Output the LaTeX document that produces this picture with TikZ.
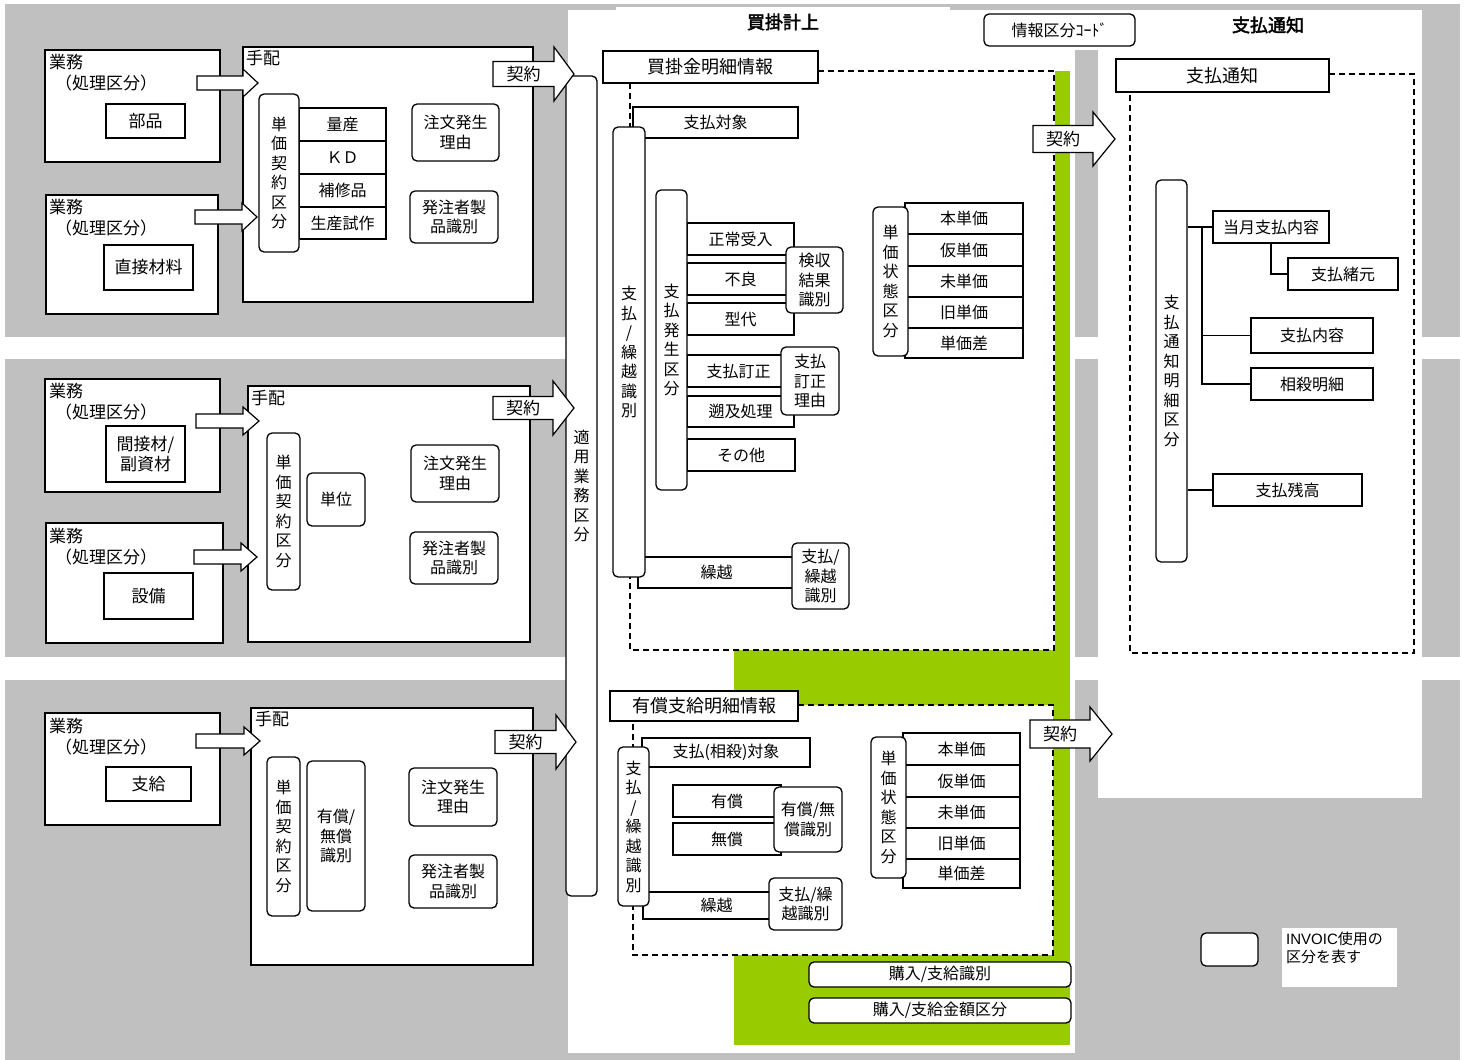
\documentclass[tikz,border=0pt]{standalone}
\usepackage{fontspec}
\setmainfont{Noto Sans CJK JP}[AutoFakeBold=2.5]
\newfontfamily\lat{Liberation Sans}
\definecolor{bandgray}{RGB}{192,192,192}
\definecolor{grn}{RGB}{153,204,0}
\tikzset{
  every node/.style={font=\fontsize{16}{19.5}\selectfont},
  rect/.style={draw, fill=white, line width=1.3pt, inner sep=0pt, align=center},
  rbox/.style={rect, rounded corners=5pt},
  big/.style={font=\fontsize{18}{21}\selectfont},
  mid/.style={font=\fontsize{17}{20}\selectfont},
  ttl/.style={font=\fontsize{18}{21}\selectfont\bfseries},
  dsh/.style={line width=1.5pt, dash pattern=on 6pt off 4pt},
  blk/.style={draw, fill=white, line width=1.2pt, line join=miter},
  ln/.style={line width=1.3pt},
}
% \bx[style]{name}{x1}{y1}{x2}{y2}{text}
\newcommand\bx[7][]{\node[rect,#1,minimum width={#5pt-#3pt},minimum height={#6pt-#4pt}] (#2) at ({(#3+#5)/2},{(#4+#6)/2}) {#7};}
% \barrow{name}{x1}{xhead}{xtip}{yc}{shaft half}{head half}
\newcommand\barrow[7]{%
  \draw[blk] (#2,{#5-#6}) -- (#3,{#5-#6}) -- (#3,{#5-#7}) -- (#4,#5) -- (#3,{#5+#7}) -- (#3,{#5+#6}) -- (#2,{#5+#6}) -- cycle;
  \coordinate (#1) at ({(#2+#3)/2},#5);}
\begin{document}
\begin{tikzpicture}[x=1pt,y=-1pt]
\useasboundingbox (0,0) rectangle (1468,1060);
\fill[white] (0,0) rectangle (1468,1060);
% background bands
\fill[bandgray] (5,4) rectangle (1460,337);
\fill[bandgray] (5,359) rectangle (1460,657);
\fill[bandgray] (5,680) rectangle (1460,1060);
\fill[white] (568,10) rectangle (1075,1053);
\fill[white] (616,7) rectangle (950,10);
\fill[white] (1075,10) rectangle (1098,50);
\fill[white] (1098,10) rectangle (1422,798);
\fill[grn] (1055,71) rectangle (1070,1045);
\fill[grn] (734,650) rectangle (1070,1045);
\fill[white] (633,705) rectangle (1053,955);

% ===== Section 1 =====
\bx{gm1}{45}{50}{220}{162}{}
\node[mid,anchor=west,inner sep=0pt] (gm1a) at (49,62) {業務};
\node[mid,anchor=west,inner sep=0pt] (gm1b) at (55,83) {（処理区分）};
\bx[mid]{bu}{106}{104}{185}{138}{部品}
\bx{gm2}{46}{195}{218}{314}{}
\node[mid,anchor=west,inner sep=0pt] (gm2a) at (49,207) {業務};
\node[mid,anchor=west,inner sep=0pt] (gm2b) at (55,228) {（処理区分）};
\bx[mid]{cz}{104}{245}{193}{290}{直接材料}
\bx{th1}{243}{47}{533}{302}{}
\node[mid,anchor=west,inner sep=0pt] (th1a) at (246,58) {手配};
\barrow{a11}{197}{243}{258}{83}{7}{14}
\barrow{a12}{195}{242}{257}{217}{7}{14}
\bx{r11}{299}{108}{386}{141}{量産}
\bx{r12}{299}{141}{386}{174}{ＫＤ}
\bx{r13}{299}{174}{386}{207}{補修品}
\bx{r14}{299}{207}{386}{239}{生産試作}
\bx[rbox]{tk1}{259}{94}{299}{252}{単\\価\\契\\約\\区\\分}
\bx[rbox]{cr1}{412}{104}{499}{161}{注文発生\\理由}
\bx[rbox]{hs1}{410}{191}{498}{243}{発注者製\\品識別}

% ===== Section 2 =====
\bx{gm3}{45}{379}{220}{492}{}
\node[mid,anchor=west,inner sep=0pt] (gm3a) at (49,391) {業務};
\node[mid,anchor=west,inner sep=0pt] (gm3b) at (55,412) {（処理区分）};
\bx[mid]{kz}{106}{426}{185}{482}{間接材/\\副資材}
\bx{gm4}{46}{523}{223}{643}{}
\node[mid,anchor=west,inner sep=0pt] (gm4a) at (49,536) {業務};
\node[mid,anchor=west,inner sep=0pt] (gm4b) at (55,557) {（処理区分）};
\bx[mid]{sb}{104}{573}{193}{619}{設備}
\bx{th2}{248}{386}{530}{642}{}
\node[mid,anchor=west,inner sep=0pt] (th2a) at (251,398) {手配};
\barrow{a21}{196}{243}{259}{421}{7}{14}
\barrow{a22}{194}{241}{257}{557}{7}{14}
\bx[rbox]{tk2}{267}{433}{300}{590}{単\\価\\契\\約\\区\\分}
\bx[rbox]{ti}{307}{473}{365}{526}{単位}
\bx[rbox]{cr2}{411}{445}{499}{502}{注文発生\\理由}
\bx[rbox]{hs2}{410}{532}{498}{584}{発注者製\\品識別}

% ===== Section 3 =====
\bx{gm5}{45}{713}{220}{825}{}
\node[mid,anchor=west,inner sep=0pt] (gm5a) at (49,726) {業務};
\node[mid,anchor=west,inner sep=0pt] (gm5b) at (55,747) {（処理区分）};
\bx[mid]{sk}{106}{767}{191}{801}{支給}
\bx{th3}{251}{708}{533}{965}{}
\node[mid,anchor=west,inner sep=0pt] (th3a) at (255,719) {手配};
\barrow{a31}{196}{244}{260}{741}{7}{14}
\bx[rbox]{tk3}{267}{757}{300}{916}{単\\価\\契\\約\\区\\分}
\bx[rbox]{ym}{307}{761}{365}{911}{有償/\\無償\\識別}
\bx[rbox]{cr3}{409}{768}{497}{826}{注文発生\\理由}
\bx[rbox]{hs3}{409}{855}{497}{908}{発注者製\\品識別}

% ===== Middle column =====
\node[ttl] (t1) at (783,22) {買掛計上};
\bx[rbox]{jk}{984}{14}{1135}{46}{情報区分ｺｰﾄﾞ}
\bx[rbox]{tekiyo}{566}{76}{597}{896}{適\\用\\業\\務\\区\\分}
\barrow{k1}{493}{554}{574}{74}{12.5}{27}
\node[mid] (k1t) at (k1) {契約};
\barrow{k2}{493}{553}{574}{408}{11.5}{27}
\node[mid] (k2t) at (k2) {契約};
\barrow{k3}{495}{556}{576}{742}{11.5}{27}
\node[mid] (k3t) at (k3) {契約};

% upper detail
\draw[dsh] (818,71) -- (1054,71) -- (1054,650) -- (630,650) -- (630,83);
\bx[big]{kk}{603}{51}{818}{83}{買掛金明細情報}
\bx{sht}{633}{107}{798}{138}{支払対象}
\bx{kr1}{638}{557}{795}{588}{繰越}
\bx[rbox]{sk1}{613}{127}{645}{577}{支\\払\\/\\繰\\越\\識\\別}
\bx[rbox]{skb1}{792}{543}{849}{609}{支払/\\繰越\\識別}
\bx{ss1}{687}{223}{794}{255}{正常受入}
\bx{ss2}{687}{263}{794}{295}{不良}
\bx{ss3}{687}{303}{794}{335}{型代}
\bx{ss4}{687}{355}{790}{387}{支払訂正}
\bx{ss5}{687}{396}{794}{427}{遡及処理}
\bx{ss6}{687}{439}{795}{471}{その他}
\bx[rbox]{sh}{656}{190}{687}{490}{支\\払\\発\\生\\区\\分}
\bx[rbox]{kn}{786}{247}{843}{313}{検収\\結果\\識別}
\bx[rbox]{tr}{781}{347}{839}{415}{支払\\訂正\\理由}
\bx{u1}{905}{203}{1023}{234}{本単価}
\bx{u2}{905}{234}{1023}{266}{仮単価}
\bx{u3}{905}{266}{1023}{297}{未単価}
\bx{u4}{905}{297}{1023}{328}{旧単価}
\bx{u5}{905}{328}{1023}{358}{単価差}
\bx[rbox]{uj}{873}{207}{908}{356}{単\\価\\状\\態\\区\\分}
\barrow{k4}{1033}{1093}{1115}{139}{13.5}{27}
\node[mid] (k4t) at (k4) {契約};

% lower detail
\draw[dsh] (798,705) -- (1053,705) -- (1053,955) -- (633,955) -- (633,721);
\bx[big]{yk}{610}{691}{798}{721}{有償支給明細情報}
\bx{sst}{642}{738}{810}{767}{支払(相殺)対象}
\bx{kr2}{643}{892}{790}{919}{繰越}
\bx[rbox]{sk2}{618}{747}{649}{906}{支\\払\\/\\繰\\越\\識\\別}
\bx{yu}{673}{785}{781}{817}{有償}
\bx{mu}{673}{823}{781}{855}{無償}
\bx[rbox]{ymb}{774}{787}{842}{852}{有償/無\\償識別}
\bx[rbox]{skb2}{769}{878}{842}{930}{支払/繰\\越識別}
\bx{v1}{903}{733}{1020}{765}{本単価}
\bx{v2}{903}{765}{1020}{797}{仮単価}
\bx{v3}{903}{797}{1020}{828}{未単価}
\bx{v4}{903}{828}{1020}{859}{旧単価}
\bx{v5}{903}{859}{1020}{888}{単価差}
\bx[rbox]{vj}{871}{737}{906}{878}{単\\価\\状\\態\\区\\分}
\barrow{k5}{1030}{1090}{1112}{734}{14}{27}
\node[mid] (k5t) at (k5) {契約};
\bx[rbox]{ks1}{809}{962}{1071}{987}{購入/支給識別}
\bx[rbox]{ks2}{809}{998}{1071}{1023}{購入/支給金額区分}

% ===== Right panel =====
\node[ttl] (t2) at (1268,25) {支払通知};
\draw[dsh] (1329,74) -- (1414,74) -- (1414,653) -- (1130,653) -- (1130,92);
\bx[big]{tz}{1116}{59}{1329}{92}{支払通知}
\bx[rbox]{tsm}{1156}{180}{1187}{562}{支\\払\\通\\知\\明\\細\\区\\分}
\bx{tg}{1213}{211}{1329}{243}{当月支払内容}
\bx{sg}{1288}{258}{1398}{290}{支払緒元}
\bx{sn}{1251}{318}{1373}{353}{支払内容}
\bx{ssm}{1251}{368}{1373}{400}{相殺明細}
\bx{zd}{1213}{474}{1362}{506}{支払残高}
\coordinate (br) at (1202,227);
\draw[ln] (tsm.east |- tg.west) -- (tg.west);
\draw[ln] (br) |- (sn.west);
\draw[ln] (br) |- (ssm.west);
\draw[ln] (tg.south) |- (sg.west);
\draw[ln] (tsm.east |- zd.west) -- (zd.west);

% legend
\bx[rbox]{lg}{1201}{933}{1258}{966}{}
\fill[white] (1282,928) rectangle (1397,987);
\node[anchor=north west, align=left, inner sep=0pt, font=\fontsize{15}{18}\selectfont] (lgt) at (1286,932) {{\lat INVOIC}使用の\\区分を表す};
\end{tikzpicture}
\end{document}
